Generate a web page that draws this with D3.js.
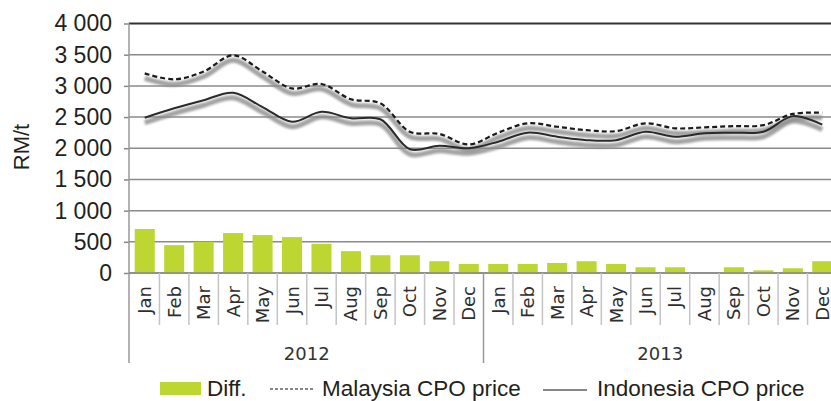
<!DOCTYPE html>
<html><head><meta charset="utf-8">
<script src="https://cdn.jsdelivr.net/npm/d3@7"></script>
<style>body{margin:0;background:#fff}svg{display:block}</style>
</head><body>
<script>
const months = ["Jan","Feb","Mar","Apr","May","Jun","Jul","Aug","Sep","Oct","Nov","Dec"];
const years = ["2012","2013"];
const malaysia = [3200,3105,3230,3490,3230,2960,3030,2785,2720,2265,2230,2060,2250,2400,2345,2290,2275,2400,2320,2335,2355,2370,2550,2570];
const indonesia = [2490,2640,2770,2890,2660,2425,2585,2480,2465,1985,2040,2000,2105,2250,2185,2130,2130,2265,2185,2240,2250,2265,2515,2380];
const diff = [705,447,500,640,608,576,468,350,285,285,189,145,145,145,161,189,145,92,92,0,92,43,76,189];
const yTicks = [0,500,1000,1500,2000,2500,3000,3500,4000];
const legendLabels = ["Diff.","Malaysia CPO price","Indonesia CPO price"];
const yTitle = "RM/t";

const W = 831, H = 401;
const svg = d3.select("body").append("svg").attr("width", W).attr("height", H);
const defs = svg.append("defs");
defs.append("filter").attr("id","blur").attr("x","-5%").attr("y","-50%").attr("width","110%").attr("height","200%")
  .append("feGaussianBlur").attr("stdDeviation", 1.3);

const keys = [];
years.forEach(y => months.forEach(m => keys.push(y + "-" + m)));
const x = d3.scaleBand().domain(keys).range([130, 837]).paddingInner(0.32).paddingOuter(0.16);
const xc = d => x(d) + x.bandwidth() / 2;
const y = d3.scaleLinear().domain([0, 4000]).range([273, 23.5]);
const loc = d3.formatLocale({decimal: ".", thousands: " ", grouping: [3], currency: ["", ""]});
const fmt = loc.format(",d");

// y axis ticks + labels
const yAxis = d3.axisLeft(y).tickValues(yTicks).tickFormat(fmt).tickSize(5).tickPadding(12);
const gy = svg.append("g").attr("transform", "translate(129,0)").call(yAxis);
gy.select(".domain").remove();
gy.selectAll(".tick line").attr("stroke", "#888").attr("stroke-width", 1.5);
gy.selectAll(".tick text").attr("font-family", "Liberation Sans, Arial, sans-serif").attr("font-size", 23).attr("fill", "#231f20");
// gridlines
svg.append("g").selectAll("line").data(yTicks).join("line")
  .attr("x1", 129).attr("x2", W).attr("y1", d => y(d)).attr("y2", d => y(d))
  .attr("stroke", d => d === 4000 ? "#333" : "#8a8a8a").attr("stroke-width", d => d === 4000 ? 2 : 1.5);

// y axis line
svg.append("line").attr("x1", 129).attr("x2", 129).attr("y1", y(4000)).attr("y2", 363).attr("stroke", "#999").attr("stroke-width", 1.5);

// bars
svg.append("g").selectAll("rect").data(diff).join("rect")
  .attr("x", (d, i) => x(keys[i])).attr("width", x.bandwidth())
  .attr("y", d => y(d)).attr("height", d => y(0) - y(d))
  .attr("fill", "#bdd631");

// x axis lines
svg.append("line").attr("x1", 129).attr("x2", W).attr("y1", y(0)).attr("y2", y(0)).attr("stroke", "#888").attr("stroke-width", 1.5);
const step = x.step();
const seps = d3.range(1, 24);
svg.append("g").selectAll("line").data(seps).join("line")
  .attr("x1", i => 130 + i * step).attr("x2", i => 130 + i * step)
  .attr("y1", y(0)).attr("y2", i => i === 12 ? 363 : 325)
  .attr("stroke", i => i === 12 ? "#999" : "#c4c4c4").attr("stroke-width", 1.5);

// month labels
svg.append("g").selectAll("text").data(keys).join("text")
  .attr("transform", d => `translate(${xc(d)},286) rotate(-90)`)
  .attr("text-anchor", "end").attr("dy", "0.36em")
  .attr("font-family", "DejaVu Sans, sans-serif").attr("font-size", 18).attr("fill", "#2e2e2e")
  .text(d => d.split("-")[1]);
// year labels
svg.append("g").selectAll("text").data(years).join("text")
  .attr("x", (d, i) => 130 + (i * 12 + 6) * step).attr("y", 360)
  .attr("text-anchor", "middle")
  .attr("font-family", "DejaVu Sans, sans-serif").attr("font-size", 18).attr("fill", "#333")
  .text(d => d);

// lines
const line = d3.line().x((d, i) => xc(keys[i])).y(d => y(d)).curve(d3.curveCatmullRom.alpha(0.5));
const shadows = svg.append("g").attr("transform", "translate(0,5)").attr("filter", "url(#blur)");
[malaysia, indonesia].forEach(s => {
  shadows.append("path").attr("d", line(s)).attr("fill", "none").attr("stroke", "#8c8c8c").attr("stroke-width", 5).attr("opacity", 0.8);
});
svg.append("path").attr("d", line(indonesia)).attr("fill", "none").attr("stroke", "#2a2a2a").attr("stroke-width", 2);
svg.append("path").attr("d", line(malaysia)).attr("fill", "none").attr("stroke", "#1a1a1a").attr("stroke-width", 2.2).attr("stroke-dasharray", "5,3");

// y title
svg.append("text").attr("transform", "translate(29,147) rotate(-90)").attr("text-anchor", "middle")
  .attr("font-family", "Liberation Sans, Arial, sans-serif").attr("font-size", 22).attr("fill", "#231f20").text(yTitle);

// legend
const lg = svg.append("g").attr("font-family", "Liberation Sans, Arial, sans-serif").attr("font-size", 22.5).attr("fill", "#231f20");
lg.append("rect").attr("x", 160).attr("y", 382).attr("width", 41).attr("height", 13).attr("fill", "#bdd631");
lg.append("text").attr("x", 207).attr("y", 396).text(legendLabels[0]);
lg.append("line").attr("x1", 270).attr("x2", 315).attr("y1", 389).attr("y2", 389).attr("stroke", "#111").attr("stroke-width", 1).attr("stroke-dasharray", "3,2");
lg.append("text").attr("x", 322).attr("y", 396).text(legendLabels[1]);
lg.append("line").attr("x1", 543).attr("x2", 587).attr("y1", 390).attr("y2", 390).attr("stroke", "#111").attr("stroke-width", 1.2);
lg.append("text").attr("x", 597).attr("y", 396).text(legendLabels[2]);
</script>
</body></html>
